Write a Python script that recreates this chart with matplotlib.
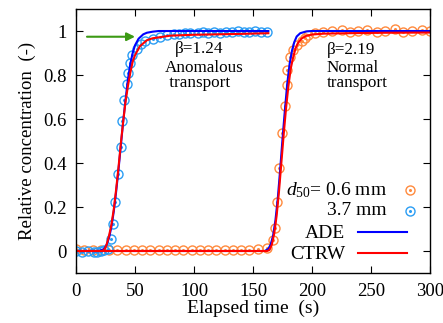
import matplotlib
matplotlib.use("Agg")
import matplotlib.pyplot as plt

plt.rcParams['font.family'] = ['Liberation Serif', 'DejaVu Serif']
plt.rcParams['mathtext.fontset'] = 'custom'
plt.rcParams['mathtext.rm'] = 'Liberation Serif'
plt.rcParams['mathtext.it'] = 'Liberation Serif:italic'

# measured data, d50 = 3.7 mm (blue circles)
t_coarse = [0, 5, 10, 15, 18, 21, 24, 27, 29.4, 31.1, 32.8, 35.8, 37.9, 39.2,
            40.9, 43.0, 43.8, 45.8, 47.7, 51.4, 55, 58.5, 65, 71, 77, 83, 87,
            92, 97, 103, 108, 112, 117, 122, 127, 132, 137, 142, 147, 152,
            157, 162]
c_coarse = [0.0, -0.005, 0.0, -0.005, -0.005, 0.0, 0.005, 0.01, 0.055, 0.123,
            0.225, 0.35, 0.472, 0.59, 0.688, 0.76, 0.81, 0.853, 0.89, 0.92,
            0.94, 0.955, 0.965, 0.975, 0.98, 0.985, 0.985, 0.99, 0.99, 0.99,
            0.995, 0.99, 0.995, 0.99, 0.995, 0.995, 1.0, 0.995, 0.995, 1.0,
            0.995, 0.995]

# measured data, d50 = 0.6 mm (orange circles)
t_fine = [0, 7, 14, 21, 28, 35, 42, 49, 56, 63, 70, 77, 84, 91, 98, 105, 112,
          119, 126, 133, 140, 147, 154, 161.6, 167.2, 168.6, 170.1, 172.2,
          174.8, 177.1, 178.5, 179.1, 181.4, 184.2, 187, 191.3, 194, 196.6,
          202.5, 209.3, 216.7, 225, 232, 239, 247, 255, 262, 270, 277, 284.7,
          293, 300]
c_fine = [0.01, 0.005, 0.005, 0.005, 0.005, 0.005, 0.005, 0.005, 0.005, 0.005,
          0.005, 0.005, 0.005, 0.005, 0.005, 0.005, 0.005, 0.005, 0.005, 0.005,
          0.005, 0.005, 0.008, 0.012, 0.05, 0.105, 0.224, 0.376, 0.535, 0.66,
          0.755, 0.823, 0.883, 0.914, 0.936, 0.956, 0.967, 0.98, 0.99, 0.995,
          1.0, 1.005, 0.995, 1.0, 1.005, 0.995, 1.0, 1.01, 0.995, 1.0, 1.005,
          1.0]

# model curves, d50 = 3.7 mm
t_ade1 = [0, 20, 24, 26, 28, 30, 32, 34, 36, 38, 40, 42, 44, 46, 48, 50, 53,
          57, 60, 65, 70, 163]
c_ade1 = [0, 0, 0.01, 0.03, 0.06, 0.11, 0.18, 0.27, 0.37, 0.48, 0.59, 0.69,
          0.78, 0.85, 0.90, 0.935, 0.965, 0.985, 0.992, 0.997, 1.0, 1.0]
t_ctrw1 = [0, 22, 24, 26, 28, 30, 32, 34, 36, 38, 40, 42, 44, 46, 48, 50, 54,
           60, 65, 80, 100, 140, 163]
c_ctrw1 = [0, 0, 0.005, 0.03, 0.07, 0.12, 0.19, 0.28, 0.38, 0.49, 0.59, 0.68,
           0.75, 0.81, 0.86, 0.89, 0.93, 0.958, 0.967, 0.979, 0.983, 0.987,
           0.99]

# model curves, d50 = 0.6 mm
t_ade2 = [0, 160, 163, 165, 167, 169, 171, 173, 175, 177, 179, 181, 183, 185,
          187, 190, 195, 200, 300]
c_ade2 = [0, 0, 0.01, 0.03, 0.07, 0.14, 0.24, 0.37, 0.51, 0.64, 0.76, 0.85,
          0.91, 0.95, 0.975, 0.99, 0.998, 1.0, 1.0]
t_ctrw2 = [0, 162, 164, 166, 168, 170, 172, 174, 176, 178, 180, 182, 184, 186,
           188, 191, 195, 200, 210, 230, 260, 300]
c_ctrw2 = [0, 0, 0.005, 0.03, 0.08, 0.16, 0.27, 0.40, 0.53, 0.65, 0.75, 0.83,
           0.88, 0.92, 0.945, 0.965, 0.978, 0.984, 0.988, 0.99, 0.992, 0.993]

orange = '#ff8a3d'
lblue = '#2a9df4'

fig = plt.figure(figsize=(4.43, 3.23), dpi=100)
ax = fig.add_axes([0.1716, 0.1548, 0.7991, 0.8173])

for t, c, col in [(t_fine, c_fine, orange), (t_coarse, c_coarse, lblue)]:
    ax.plot(t, c, 'o', ms=6.5, mfc='none', mec=col, mew=1.0, ls='none')
    ax.plot(t, c, 'o', ms=1.2, mfc=col, mec=col, ls='none')

ax.plot(t_ade1, c_ade1, color='#0000ff', lw=1.5)
ax.plot(t_ade2, c_ade2, color='#0000ff', lw=1.5)
ax.plot(t_ctrw1, c_ctrw1, color='#ff0000', lw=1.5)
ax.plot(t_ctrw2, c_ctrw2, color='#ff0000', lw=1.5)

ax.set_xlim(0, 300)
ax.set_ylim(-0.1, 1.1)
ax.set_xticks([0, 50, 100, 150, 200, 250, 300])
ax.set_yticks([0, 0.2, 0.4, 0.6, 0.8, 1.0])
ax.set_yticklabels(['0', '0.2', '0.4', '0.6', '0.8', '1'])
ax.tick_params(direction='in', top=True, right=True, length=5, width=0.8,
               labelsize=13.5, pad=7)
for s in ax.spines.values():
    s.set_linewidth(1.0)

ax.set_xlabel('Elapsed time  (s)', fontsize=14, labelpad=0)
ax.set_ylabel('Relative concentration  (-)', fontsize=13.5, labelpad=5)

# arrow
ax.annotate('', xy=(50, 0.974), xytext=(9.3, 0.974),
            arrowprops=dict(arrowstyle='-|>', color='#3c9a14', lw=1.5,
                            mutation_scale=12, shrinkA=0, shrinkB=0))

ax.text(84, 0.899, 'β=1.24', fontsize=12.3, va='baseline')
ax.text(75, 0.866, 'Anomalous\n transport', fontsize=12.3, va='top',
        linespacing=0.85)
ax.text(212.5, 0.897, 'β=2.19', fontsize=12.3, va='baseline')
ax.text(212.5, 0.866, 'Normal\ntransport', fontsize=12.3, va='top',
        linespacing=0.85)

# key
tr = ax.transAxes
ax.text(0.878, 0.295, r'$d_{50}$= 0.6 mm', transform=tr, ha='right',
        va='baseline', fontsize=14)
ax.text(0.878, 0.22, '3.7 mm', transform=tr, ha='right', va='baseline',
        fontsize=14)
ax.text(0.760, 0.131, 'ADE', transform=tr, ha='right', va='baseline',
        fontsize=14)
ax.text(0.760, 0.052, 'CTRW', transform=tr, ha='right', va='baseline',
        fontsize=14)
for fy, col in [(0.314, orange), (0.235, lblue)]:
    ax.plot([0.944], [fy], 'o', ms=6.5, mfc='none', mec=col, mew=1.0,
            transform=tr, clip_on=False)
    ax.plot([0.944], [fy], 'o', ms=1.2, mfc=col, mec=col, transform=tr,
            clip_on=False)
ax.plot([0.797, 0.935], [0.156, 0.156], color='#0000ff', lw=1.5, transform=tr)
ax.plot([0.797, 0.935], [0.075, 0.075], color='#ff0000', lw=1.5, transform=tr)

fig.savefig('out.png', dpi=100)
